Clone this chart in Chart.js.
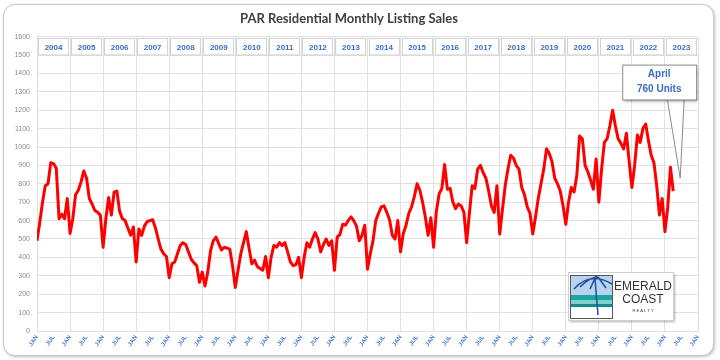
<!DOCTYPE html>
<html lang="en">
<head>
<meta charset="utf-8"/>
<title>PAR Residential Monthly Listing Sales</title>
<script src="https://cdn.jsdelivr.net/npm/chart.js"></script>
<style>
    html, body {
        margin: 0;
        padding: 0;
        background: #ffffff;
    }
    .wrap {
        position: relative;
        width: 720px;
        height: 360px;
    }
    .frame {
        position: absolute;
        left: 3px;
        top: 4px;
        width: 709px;
        height: 350px;
        border: 1px solid #c9c9c9;
        border-radius: 12px;
        box-shadow: 1px 1px 3px rgba(0, 0, 0, 0.25);
        background: #ffffff;
    }
    canvas {
        position: absolute;
        left: 0;
        top: 0;
    }
</style>
</head>
<body>
<div class="wrap">
    <div class="frame"></div>
    <canvas id="salesChart" width="720" height="360"></canvas>
</div>
<script>
    // year header cells across the top of the plot
    const years = [2004, 2005, 2006, 2007, 2008, 2009, 2010, 2011, 2012, 2013,
                   2014, 2015, 2016, 2017, 2018, 2019, 2020, 2021, 2022, 2023];
    // x tick labels, every six months
    const monthTicks = ['JAN', 'JUL'];
    // monthly listing sales, Jan 2004 .. Apr 2023 (one row per year)
    const sales = [
        490, 590, 700, 790, 800, 915, 910, 885, 610, 635, 610, 720,        // 2004
        530, 610, 740, 765, 810, 870, 830, 720, 690, 655, 645, 630,        // 2005
        455, 610, 725, 630, 755, 760, 650, 610, 600, 560, 520, 565,        // 2006
        375, 555, 520, 570, 595, 600, 605, 560, 500, 445, 420, 405,        // 2007
        290, 365, 375, 420, 465, 480, 470, 430, 390, 370, 355, 265,        // 2008
        320, 245, 320, 435, 490, 510, 475, 440, 455, 450, 445, 355,        // 2009
        236, 330, 420, 480, 540, 450, 365, 385, 350, 340, 330, 405,        // 2010
        290, 400, 465, 455, 480, 465, 480, 430, 375, 355, 360, 400,        // 2011
        290, 400, 480, 455, 500, 535, 500, 430, 470, 500, 465, 490,        // 2012
        330, 510, 525, 580, 575, 600, 620, 600, 570, 490, 520, 575,        // 2013
        336, 420, 490, 600, 640, 675, 680, 645, 605, 520, 500, 600,        // 2014
        430, 530, 575, 640, 675, 730, 800, 765, 700, 620, 520, 615,        // 2015
        455, 650, 745, 775, 905, 770, 775, 700, 665, 690, 680, 645,        // 2016
        480, 640, 790, 775, 880, 900, 860, 830, 760, 680, 645, 790,        // 2017
        527, 660, 790, 880, 955, 940, 900, 880, 780, 740, 675, 640,        // 2018
        527, 620, 720, 800, 880, 990, 965, 920, 830, 800, 760, 680,        // 2019
        580, 700, 780, 755, 845, 1060, 1045, 900, 865, 820, 770, 935,      // 2020
        700, 880, 1025, 1045, 1115, 1200, 1115, 1045, 1020, 990, 1075, 920,// 2021
        780, 900, 1065, 1025, 1100, 1125, 1035, 955, 915, 790, 630, 720,   // 2022
        540, 670, 890, 760                                                 // 2023
    ];
    const calloutMonth = 'April';

    const gridColor = '#e1e1e1';
    const blue = '#3a6cc6';

    // boxed year labels between the 1600 and 1500 lines
    const yearHeader = {
        id: 'yearHeader',
        beforeDatasetsDraw(chart) {
            const { ctx, scales: { x, y } } = chart;
            const top = y.getPixelForValue(1600);
            const bottom = y.getPixelForValue(1500);
            ctx.save();
            ctx.font = 'bold 8px "Liberation Sans", Arial, sans-serif';
            ctx.textAlign = 'center';
            ctx.textBaseline = 'middle';
            years.forEach((yr, i) => {
                const l = x.getPixelForValue(i * 12);
                const r = x.getPixelForValue(i * 12 + 12);
                ctx.fillStyle = '#ffffff';
                ctx.fillRect(l + 1, top + 1, r - l - 2, bottom - top - 1);
                ctx.strokeStyle = '#d2d2d2';
                ctx.lineWidth = 1;
                ctx.strokeRect(Math.round(l) + 1.5, Math.round(top) + 1.5, r - l - 3, bottom - top - 2);
                ctx.fillStyle = blue;
                ctx.fillText(String(yr), (l + r) / 2, (top + bottom) / 2 + 2);
            });
            ctx.restore();
        }
    };

    // callout for the latest month + logo
    const extras = {
        id: 'extras',
        afterDatasetsDraw(chart) {
            const { ctx, chartArea, scales: { x, y } } = chart;
            const last = sales.length - 1;
            const tipX = x.getPixelForValue(last) + 7;
            const tipY = y.getPixelForValue(sales[last]) - 13;
            const bw = 74, bh = 35;
            const bx = tipX - 58, by = chartArea.top + 28;

            ctx.save();
            // pointer
            ctx.beginPath();
            ctx.moveTo(bx + 45, by + bh - 1);
            ctx.lineTo(tipX, tipY);
            ctx.lineTo(bx + 62, by + bh - 1);
            ctx.closePath();
            ctx.fillStyle = '#ffffff';
            ctx.fill();
            ctx.strokeStyle = '#8a8a8a';
            ctx.lineWidth = 1;
            ctx.stroke();
            // box
            ctx.shadowColor = 'rgba(0,0,0,0.35)';
            ctx.shadowOffsetX = 2;
            ctx.shadowOffsetY = 2;
            ctx.shadowBlur = 3;
            ctx.fillStyle = '#ffffff';
            ctx.fillRect(bx, by, bw, bh);
            ctx.shadowColor = 'transparent';
            ctx.strokeRect(bx + 0.5, by + 0.5, bw, bh);
            ctx.fillStyle = blue;
            ctx.font = 'bold 10px "Liberation Sans", Arial, sans-serif';
            ctx.textAlign = 'center';
            ctx.textBaseline = 'middle';
            ctx.fillText(calloutMonth, bx + bw / 2, by + 10);
            ctx.fillText(sales[last] + ' Units', bx + bw / 2, by + 25);

            // logo
            const lx = chartArea.right - 130, ly = chartArea.bottom - 59;
            ctx.shadowColor = 'rgba(0,0,0,0.3)';
            ctx.shadowOffsetX = 2;
            ctx.shadowOffsetY = 2;
            ctx.shadowBlur = 2;
            ctx.fillStyle = '#ffffff';
            ctx.fillRect(lx, ly, 105, 48);
            ctx.shadowColor = 'transparent';
            ctx.strokeStyle = '#cfcfcf';
            ctx.strokeRect(lx + 0.5, ly + 0.5, 105, 48);
            // icon
            const ix = lx + 2, iy = ly + 3;
            ctx.fillStyle = '#b9d3ee';
            ctx.fillRect(ix, iy, 42, 20);
            ctx.fillStyle = '#1aa6a3';
            ctx.fillRect(ix, iy + 20, 42, 5);
            ctx.fillStyle = '#7fd0cc';
            ctx.fillRect(ix, iy + 25, 42, 4);
            ctx.fillStyle = '#0f8e8a';
            ctx.fillRect(ix, iy + 29, 42, 3);
            ctx.fillStyle = '#ffffff';
            ctx.fillRect(ix, iy + 32, 42, 12);
            ctx.strokeStyle = '#1f4f9e';
            ctx.lineWidth = 1.5;
            ctx.beginPath();
            ctx.moveTo(ix + 4, iy + 14);
            ctx.quadraticCurveTo(ix + 20, iy - 4, ix + 42, iy + 9);
            ctx.moveTo(ix + 10, iy + 12);
            ctx.quadraticCurveTo(ix + 20, iy + 2, ix + 28, iy + 2);
            ctx.moveTo(ix + 20, iy + 14);
            ctx.lineTo(ix + 26, iy + 1);
            ctx.moveTo(ix + 36, iy + 13);
            ctx.lineTo(ix + 28, iy + 2);
            ctx.moveTo(ix + 25, iy + 4);
            ctx.lineTo(ix + 28, iy + 40);
            ctx.stroke();
            ctx.strokeStyle = '#555555';
            ctx.lineWidth = 1;
            ctx.strokeRect(ix + 0.5, iy + 0.5, 42, 43);
            // wordmark
            ctx.fillStyle = '#333333';
            ctx.textAlign = 'center';
            ctx.textBaseline = 'middle';
            ctx.font = '12px "Liberation Sans Narrow", "Liberation Sans", Arial, sans-serif';
            ctx.fillText('EMERALD', lx + 75, ly + 15);
            ctx.fillText('COAST', lx + 75, ly + 28);
            ctx.font = '4px "Liberation Sans", Arial, sans-serif';
            ctx.fillText('R E A L T Y', lx + 75, ly + 39);
            ctx.restore();
        }
    };

    const ctx = document.getElementById('salesChart').getContext('2d');
    const salesChart = new Chart(ctx, {
        type: 'line',
        data: {
            datasets: [{
                label: 'Listing Sales',
                data: sales.map((v, i) => ({ x: i, y: v })),
                borderColor: '#ff0000',
                borderWidth: 3,
                borderJoinStyle: 'round',
                pointRadius: 0,
                tension: 0,
                fill: false
            }]
        },
        options: {
            responsive: false,
            devicePixelRatio: 1,
            animation: false,
            layout: {
                padding: { left: 0, right: 22, top: 0, bottom: 0 }
            },
            scales: {
                x: {
                    type: 'linear',
                    min: 0,
                    max: years.length * 12,
                    afterFit(scale) { scale.height = 29; },
                    border: { color: gridColor },
                    grid: {
                        color: (c) => (c.tick && c.tick.value % 12 === 0) ? gridColor : 'rgba(0,0,0,0)',
                        drawTicks: false
                    },
                    ticks: {
                        stepSize: 6,
                        autoSkip: false,
                        minRotation: 55,
                        maxRotation: 55,
                        padding: 3,
                        color: '#4a7ad0',
                        font: { size: 6, weight: 'bold', family: '"Liberation Sans", Arial, sans-serif' },
                        callback: (v) => monthTicks[(v % 12) / 6]
                    }
                },
                y: {
                    min: 0,
                    max: 1600,
                    afterFit(scale) { scale.width = 37; },
                    border: { color: gridColor },
                    grid: { color: gridColor, drawTicks: false },
                    ticks: {
                        stepSize: 100,
                        padding: 7,
                        color: '#8a8a8a',
                        font: { size: 7, family: '"Liberation Sans", Arial, sans-serif' },
                        callback: (v) => String(v)
                    }
                }
            },
            plugins: {
                legend: { display: false },
                tooltip: { enabled: false },
                title: {
                    display: true,
                    text: 'PAR Residential Monthly Listing Sales',
                    color: '#404040',
                    font: { size: 13, weight: 'bold', family: 'Lato, "Liberation Sans", sans-serif' },
                    padding: { top: 11, bottom: 10 }
                }
            }
        },
        plugins: [yearHeader, extras]
    });
</script>
</body>
</html>
